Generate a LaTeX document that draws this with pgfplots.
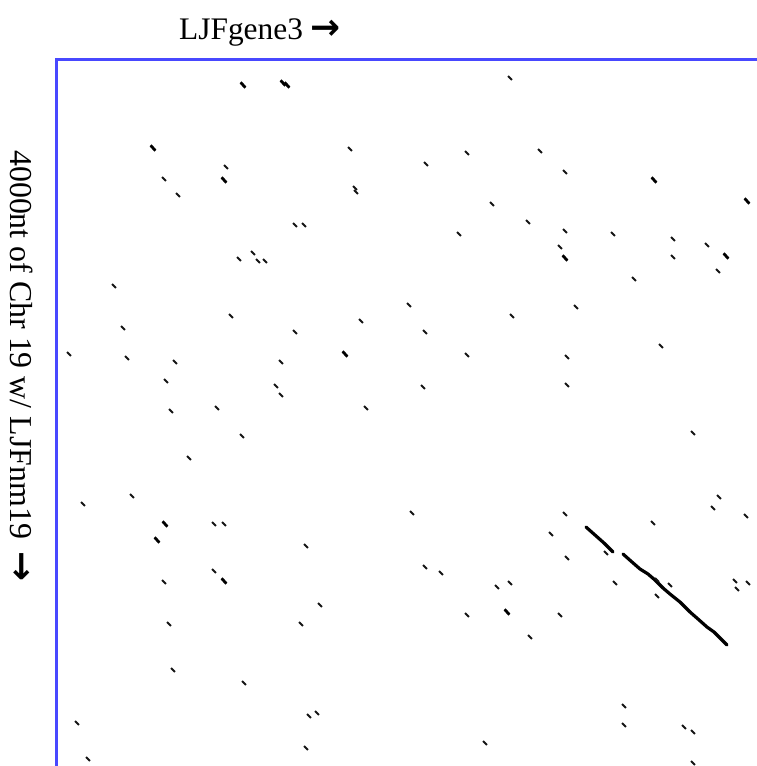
\documentclass[border=0pt]{standalone}
\usepackage{pgfplots}
\pgfplotsset{compat=1.18}
\usepackage{fontspec}
\setmainfont{Liberation Serif}
\newfontfamily\arrowfont{DejaVu Sans}

\definecolor{framblue}{RGB}{72,72,255}
\definecolor{dotink}{RGB}{20,20,20}

% short diagonal strokes, as the dot-plot window matches are drawn
\pgfdeclareplotmark{hit}{%
  \pgfpathmoveto{\pgfpoint{-1.9pt}{1.9pt}}%
  \pgfpathlineto{\pgfpoint{1.9pt}{-1.9pt}}%
  \pgfusepathqstroke}
\pgfdeclareplotmark{hitbold}{%
  \pgfpathmoveto{\pgfpoint{-2.4pt}{2.7pt}}%
  \pgfpathlineto{\pgfpoint{2.4pt}{-2.7pt}}%
  \pgfusepathqstroke}

% single matches (x = position in LJFgene3, y = position in the Chr 19 window)
\pgfplotstableread{
x y
510 78
350 149
226 167
164 179
178 195
355 188
356 192
295 225
304 225
253 253
239 259
258 261
265 261
114 286
467 153
540 151
426 164
565 172
492 204
528 222
459 234
565 231
613 234
673 239
707 245
560 247
673 257
718 271
634 279
231 316
361 321
123 328
295 332
69 354
127 358
175 362
281 362
166 381
276 386
281 395
171 411
217 408
366 408
242 436
189 458
132 496
83 504
214 524
224 524
409 305
512 316
576 307
425 332
661 346
467 355
567 357
423 387
567 385
693 433
719 497
713 508
746 516
412 513
565 514
653 523
306 546
214 571
164 582
320 605
169 624
301 624
173 670
244 683
77 723
309 716
317 713
306 748
88 759
551 534
425 567
441 573
567 558
606 553
497 587
510 583
615 583
657 580
670 585
657 596
735 581
737 589
748 583
467 615
560 615
530 637
624 706
624 725
684 727
693 732
485 743
693 763
}\hits

% stronger matches
\pgfplotstableread{
x y
243 85
283 83
287 85
153 148
224 180
654 180
747 201
565 258
726 256
345 354
165 524
157 540
224 581
507 612
}\boldhits

% the long diagonal run of matching windows
\pgfplotstableread{
x y
586 527
595 535
604 543
613 552
}\runA
\pgfplotstableread{
x y
623 554
632 562
640 569
648 574
655 580
663 588
670 594
680 602
690 612
698 619
707 627
714 632
720 638
727 645
}\runB

\begin{document}
\begin{tikzpicture}
\begin{axis}[
  scale only axis,
  width=700bp, height=706bp,
  xmin=57, xmax=757, ymin=60, ymax=766,
  y dir=reverse,
  axis lines=none,
  clip=false,
]
\addplot[only marks, mark=hit, draw=dotink, line width=2bp] table {\hits};
\addplot[only marks, mark=hitbold, draw=black, line width=2.8bp] table {\boldhits};
\addplot[black, line width=3.2bp, line cap=round, line join=round] table {\runA};
\addplot[black, line width=3.2bp, line cap=round, line join=round] table {\runB};

\draw[framblue, line width=3bp] (axis cs:57,766) -- (axis cs:57,60) -- (axis cs:757,60);

\node[anchor=base west, inner sep=0pt, font=\fontsize{31.5}{36}\selectfont]
  at (axis cs:179,40) {LJFgene3 {\arrowfont\bfseries\fontsize{36}{36}\selectfont →}};
\node[anchor=base west, rotate=-90, inner sep=0pt, font=\fontsize{32}{36}\selectfont]
  at (axis cs:11,150) {4000nt of Chr 19 w/ LJFnm19\hspace{0.4em}{\arrowfont\bfseries\fontsize{36}{36}\selectfont →}};

\coordinate (pageTL) at (axis cs:0,0);
\coordinate (pageBR) at (axis cs:757,766);
\end{axis}
\pgfresetboundingbox
\useasboundingbox (pageTL) rectangle (pageBR);
\end{tikzpicture}
\end{document}
